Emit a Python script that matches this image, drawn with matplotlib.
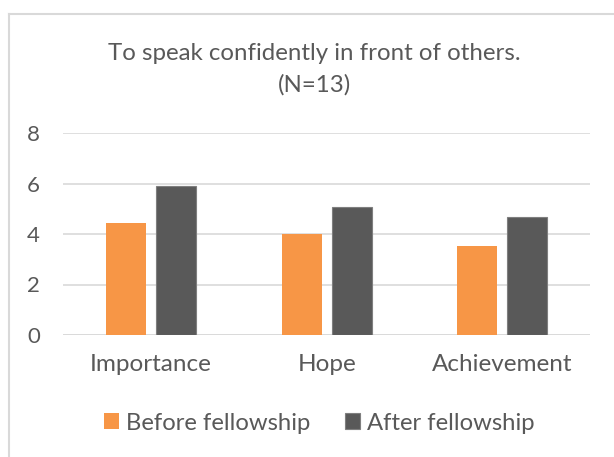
import numpy as np
import matplotlib.pyplot as plt
from matplotlib.lines import Line2D

plt.rcParams['font.family'] = ['Lato', 'DejaVu Sans']

categories = ['Importance', 'Hope', 'Achievement']
before = [4.43, 4.0, 3.53]
after = [5.92, 5.07, 4.66]
y_ticks = [0, 2, 4, 6, 8]

text_col = '#595959'
orange = '#F79646'
dark = '#595959'
W, H = 614, 457

fig = plt.figure(figsize=(W / 100, H / 100), dpi=100)
# chart area border (right and bottom edges fall outside the picture)
fig.lines.append(Line2D([8.5 / W, 8.5 / W], [0, 1 - 13.5 / H], transform=fig.transFigure,
                        color='#D9D9D9', linewidth=1.5))
fig.lines.append(Line2D([8.5 / W, 1], [1 - 13.5 / H, 1 - 13.5 / H], transform=fig.transFigure,
                        color='#D9D9D9', linewidth=1.5))

ax = fig.add_axes([63.4 / W, 1 - 335 / H, 526.6 / W, 202 / H])
x = np.arange(len(categories))
w = 0.226
gap = 0.059
ax.bar(x - (w + gap) / 2, before, w, color=orange, label='Before fellowship', zorder=3)
ax.bar(x + (w + gap) / 2, after, w, color=dark, edgecolor='#7F7F7F', linewidth=0.8,
       label='After fellowship', zorder=3)

ax.set_xlim(-0.5, len(categories) - 0.5)
ax.set_ylim(0, 8)
ax.set_yticks(y_ticks)
ax.yaxis.grid(True, color='#D9D9D9', linewidth=1.2, zorder=0)
for s in ax.spines.values():
    s.set_visible(False)
ax.axhline(0, color='#D9D9D9', linewidth=1.2, zorder=2)
ax.tick_params(length=0, colors=text_col)
ax.tick_params(axis='y', labelsize=16, pad=17)
ax.tick_params(axis='x', labelsize=17.5, pad=14)
ax.set_xticks(x)
ax.set_xticklabels(categories)

fig.text(314.5 / W, 1 - 60 / H, 'To speak confidently in front of others.', ha='center',
         va='baseline', fontsize=17.3, color=text_col)
fig.text(314.5 / W, 1 - 92 / H, '(N=13)', ha='center', va='baseline', fontsize=17.3,
         color=text_col)

fig.legend(loc='center', bbox_to_anchor=(319 / W, 1 - 423 / H), ncol=2, frameon=False,
           fontsize=17.2, labelcolor=text_col, handlelength=0.63, handleheight=0.63,
           handletextpad=0.28, columnspacing=1.46, borderpad=0, borderaxespad=0)

fig.savefig('out.png', dpi=100)
